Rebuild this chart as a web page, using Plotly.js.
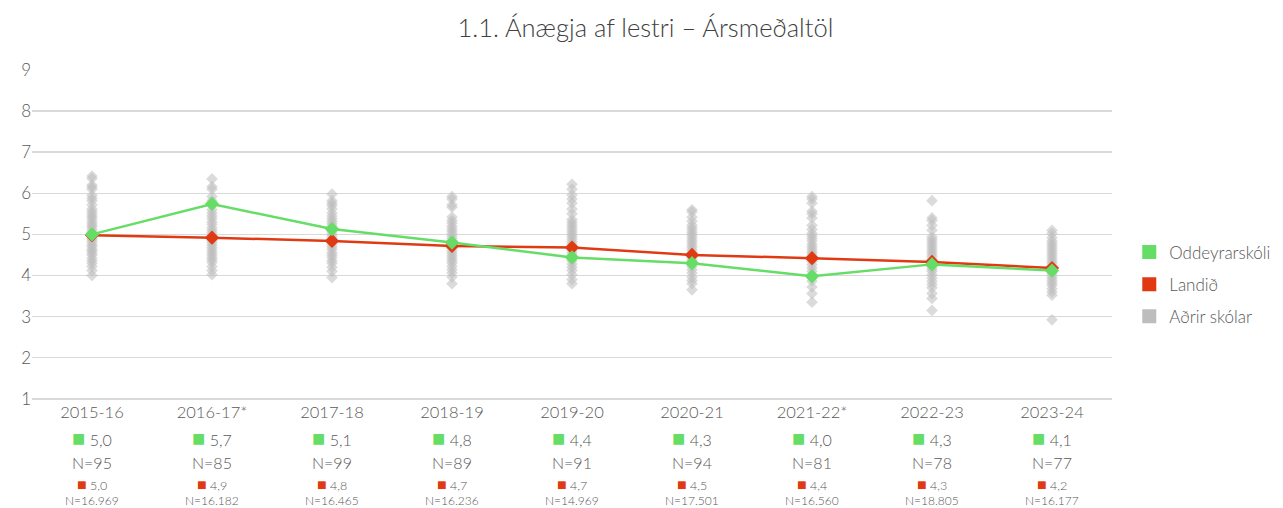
<!DOCTYPE html>
<html>
<head>
<meta charset="utf-8">
<script src="https://cdn.plot.ly/plotly-3.0.1.min.js"></script>
<style>html,body{margin:0;padding:0;background:#fff;}#chart{width:1283px;height:508px;}</style>
</head>
<body>
<div id="chart"></div>
<script>
const categories = ["2015-16","2016-17*","2017-18","2018-19","2019-20","2020-21","2021-22*","2022-23","2023-24"];
const schoolValues = [5.00, 5.74, 5.13, 4.80, 4.44, 4.30, 3.98, 4.27, 4.12];
const schoolN = [95, 85, 99, 89, 91, 94, 81, 78, 77];
const nationalValues = [4.98, 4.92, 4.84, 4.72, 4.68, 4.50, 4.42, 4.33, 4.18];
const nationalN = ["16.969","16.182","16.465","16.236","14.969","17.501","16.560","18.805","16.177"];
const otherSchools2015 = [6.42,6.36,6.2,6.15,6.1,5.95,5.88,5.82,5.72,5.62,5.56,5.5,5.45,5.4,5.34,5.28,5.22,5.18,5.12,5.06,5.02,4.96,4.9,4.86,4.8,4.74,4.7,4.64,4.6,4.55,4.5,4.42,4.36,4.3,4.22,4.12,4.0];
const otherSchools2016 = [6.35,6.16,6.1,5.92,5.82,5.72,5.6,5.52,5.45,5.38,5.3,5.24,5.16,5.1,5.04,4.98,4.9,4.86,4.8,4.74,4.68,4.62,4.56,4.5,4.44,4.38,4.32,4.22,4.12,4.02];
const otherSchools2017 = [5.98,5.82,5.76,5.7,5.62,5.52,5.45,5.38,5.32,5.26,5.2,5.14,5.06,5.0,4.94,4.88,4.82,4.76,4.7,4.64,4.56,4.5,4.44,4.36,4.3,4.2,4.1,3.95];
const otherSchools2018 = [5.92,5.86,5.72,5.66,5.42,5.34,5.28,5.2,5.14,5.08,5.02,4.96,4.9,4.84,4.78,4.72,4.66,4.6,4.54,4.48,4.42,4.36,4.3,4.22,4.14,4.06,3.96,3.8];
const otherSchools2019 = [6.22,6.1,5.96,5.86,5.76,5.62,5.5,5.36,5.3,5.24,5.18,5.12,5.06,5.0,4.94,4.88,4.82,4.76,4.7,4.62,4.56,4.5,4.44,4.36,4.28,4.2,4.12,4.02,3.9,3.8];
const otherSchools2020 = [5.6,5.55,5.42,5.32,5.22,5.16,5.1,5.04,4.98,4.92,4.86,4.8,4.74,4.68,4.62,4.56,4.5,4.44,4.38,4.3,4.22,4.14,4.06,3.96,3.88,3.8,3.65];
const otherSchools2021 = [5.92,5.86,5.76,5.56,5.5,5.4,5.22,5.12,5.02,4.96,4.9,4.84,4.76,4.7,4.64,4.58,4.52,4.46,4.4,4.34,4.26,4.18,4.1,4.02,3.94,3.86,3.72,3.56,3.35];
const otherSchools2022 = [5.82,5.4,5.34,5.22,5.1,4.94,4.88,4.82,4.76,4.7,4.64,4.58,4.52,4.46,4.4,4.34,4.28,4.22,4.16,4.1,4.02,3.94,3.86,3.78,3.7,3.56,3.44,3.15];
const otherSchools2023 = [5.1,5.02,4.92,4.84,4.78,4.72,4.66,4.6,4.54,4.48,4.42,4.36,4.3,4.24,4.18,4.12,4.06,4.0,3.94,3.88,3.82,3.76,3.68,3.6,3.52,2.92];
const otherSchools = [otherSchools2015, otherSchools2016, otherSchools2017, otherSchools2018, otherSchools2019, otherSchools2020, otherSchools2021, otherSchools2022, otherSchools2023];
const yTicks = [1,2,3,4,5,6,7,8,9];

const GREEN = "#66dd66", RED = "#df3a12", GRAY = "#bdbdbd", TXT = "#595959";
const FONT = "Lato, 'Open Sans', sans-serif";

const grayX = [], grayY = [];
otherSchools.forEach((arr, i) => arr.forEach(v => { grayX.push(i); grayY.push(v); }));

const fmt = v => v.toFixed(1).replace('.', ',');
const xIdx = categories.map((c, i) => i);

const traces = [
  {x: grayX, y: grayY, type: "scatter", mode: "markers", showlegend: false, hoverinfo: "skip",
   marker: {symbol: "diamond", size: 9, color: "rgba(190,190,190,0.55)", line: {width: 0}}},
  {x: xIdx, y: nationalValues, type: "scatter", mode: "lines+markers", showlegend: false,
   line: {color: RED, width: 2.5}, marker: {symbol: "diamond", size: 11, color: RED}},
  {x: xIdx, y: schoolValues, type: "scatter", mode: "lines+markers", showlegend: false,
   line: {color: GREEN, width: 2.5}, marker: {symbol: "diamond", size: 11, color: GREEN}},
  {x: [null], y: [null], type: "scatter", mode: "markers", name: "Oddeyrarskóli", legendgroup: "a",
   marker: {symbol: "square", size: 14, color: GREEN}},
  {x: [null], y: [null], type: "scatter", mode: "markers", name: "Landið", legendgroup: "b",
   marker: {symbol: "square", size: 14, color: RED}},
  {x: [null], y: [null], type: "scatter", mode: "markers", name: "Aðrir skólar", legendgroup: "c",
   marker: {symbol: "square", size: 14, color: GRAY}}
];

const annotations = [];
categories.forEach((c, i) => {
  annotations.push({x: i, xref: "x", y: -0.1155, yref: "paper", yanchor: "middle", showarrow: false,
    text: '<span style="color:' + GREEN + ';font-size:22px;font-family:DejaVu Sans">■</span> ' + fmt(schoolValues[i]),
    font: {family: FONT, size: 16, color: TXT}});
  annotations.push({x: i, xref: "x", y: -0.188, yref: "paper", yanchor: "middle", showarrow: false,
    text: "N=" + schoolN[i], font: {family: FONT, size: 16, color: TXT}});
  annotations.push({x: i, xref: "x", y: -0.257, yref: "paper", yanchor: "middle", showarrow: false,
    text: '<span style="color:' + RED + ';font-size:16px;font-family:DejaVu Sans">■</span> ' + fmt(nationalValues[i]),
    font: {family: FONT, size: 12.5, color: TXT}});
  annotations.push({x: i, xref: "x", y: -0.304, yref: "paper", yanchor: "middle", showarrow: false,
    text: "N=" + nationalN[i], font: {family: FONT, size: 12, color: TXT}});
});

const layout = {
  width: 1283, height: 508,
  margin: {l: 32, r: 171, t: 70, b: 108, autoexpand: false},
  paper_bgcolor: "#fff", plot_bgcolor: "#fff",
  font: {family: FONT, color: TXT, weight: 300},
  title: {text: "1.1. Ánægja af lestri – Ársmeðaltöl", x: 0.503, xanchor: "center", y: 0.945, yanchor: "middle",
          font: {family: FONT, size: 25.5, color: "#404040", weight: 300}},
  xaxis: {range: [-0.5, 8.5], tickvals: xIdx, ticktext: categories, showgrid: false, zeroline: false,
          showline: false, ticks: "", tickfont: {family: FONT, size: 16.5, color: TXT, weight: 300}, fixedrange: true},
  yaxis: {range: [0.97, 9.0], tickvals: yTicks, showgrid: true, gridcolor: "#d9d9d9", gridwidth: 1.5,
          zeroline: false, showline: false, ticks: "", ticklabelstandoff: 0,
          tickfont: {family: FONT, size: 17, color: TXT, weight: 300}, fixedrange: true},
  showlegend: true,
  legend: {x: 1.016, xanchor: "left", y: 0.35, yanchor: "middle", traceorder: "grouped", tracegroupgap: 7,
           font: {family: FONT, size: 17, color: TXT, weight: 300}, itemwidth: 30, bgcolor: "rgba(0,0,0,0)"},
  annotations: annotations
};

Plotly.newPlot("chart", traces, layout, {displayModeBar: false, staticPlot: true});
</script>
</body>
</html>
